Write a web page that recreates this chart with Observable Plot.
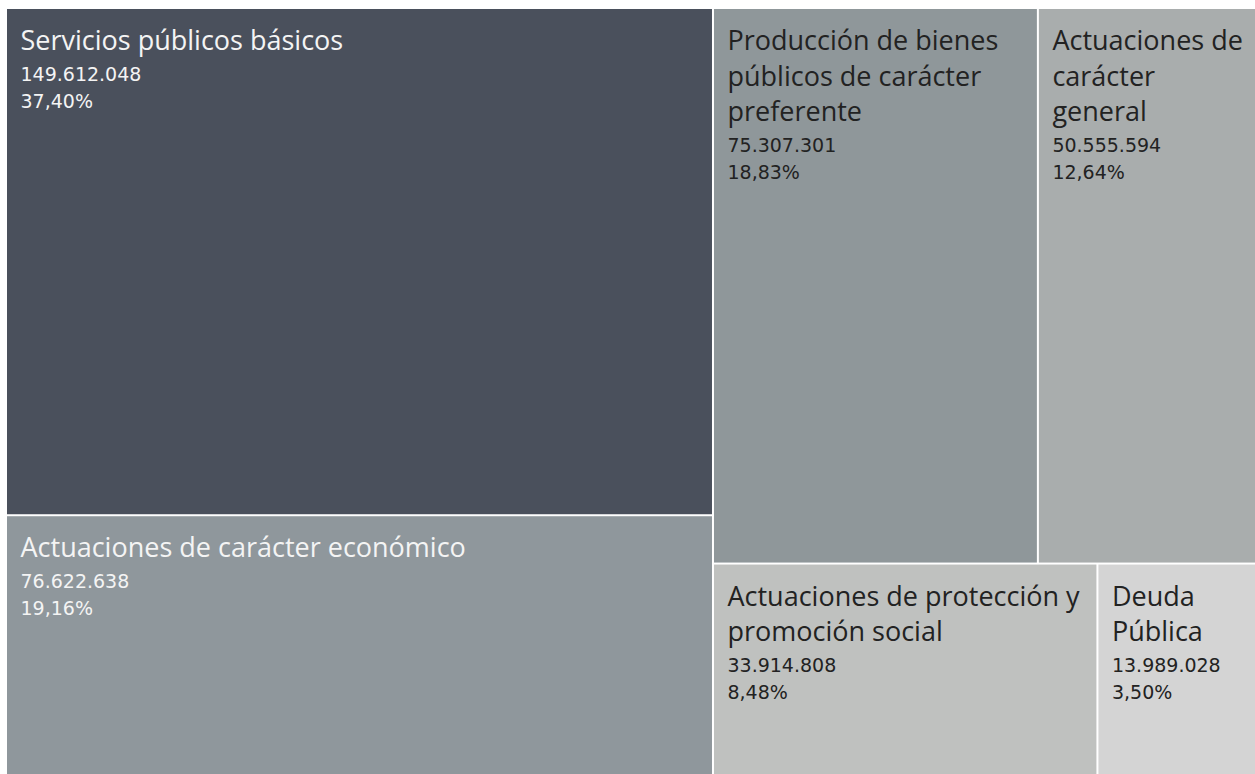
<!DOCTYPE html>
<html><head><meta charset="utf-8">
<script src="https://cdn.jsdelivr.net/npm/d3@7"></script>
<script src="https://cdn.jsdelivr.net/npm/@observablehq/plot@0.6"></script>
<style>body{margin:0;background:#fff;font-family:"Open Sans",sans-serif}</style>
</head><body><div id="chart"></div>
<script>
const categories = ["Servicios públicos básicos", "Actuaciones de carácter económico", "Producción de bienes públicos de carácter preferente", "Actuaciones de carácter general", "Actuaciones de protección y promoción social", "Deuda Pública"];
const labelLines = [["Servicios públicos básicos"], ["Actuaciones de carácter económico"], ["Producción de bienes", "públicos de carácter", "preferente"], ["Actuaciones de", "carácter", "general"], ["Actuaciones de protección y", "promoción social"], ["Deuda", "Pública"]];
const values = [149612048, 76622638, 75307301, 50555594, 33914808, 13989028];
const layoutGroups = [["left"], ["left"], ["right", "top"], ["right", "top"], ["right", "bottom"], ["right", "bottom"]];
const fills = ["#4a505c", "#8f979c", "#8f979a", "#a9adad", "#bfc1bf", "#d4d4d4"];
const textColors = ["#f4f4f4", "#f4f4f4", "#222222", "#222222", "#222222", "#222222"];

const W = 1255, H = 774;
const xRange = [6, 1256], yRange = [8, 775];
const pxX = xRange[1] - xRange[0], pxY = yRange[1] - yRange[0];

// build nested hierarchy
const root = {name: "root", children: []};
categories.forEach((c, i) => {
  let node = root;
  for (const g of layoutGroups[i]) {
    let child = node.children.find(d => d.name === g);
    if (!child) { child = {name: g, children: []}; node.children.push(child); }
    node = child;
  }
  node.children.push({name: c, value: values[i], idx: i});
});
const h = d3.hierarchy(root).sum(d => d.value || 0);
d3.treemap().tile(d3.treemapSliceDice).size([1, 1]).round(false)(h);
const total = d3.sum(values);
const loc = d3.formatLocale({decimal: ",", thousands: ".", grouping: [3], currency: ["", "€"]});
const fmtInt = loc.format(",d");
const fmtPct = loc.format(".2%");

const rects = h.leaves().map(l => ({
  x1: l.x0, x2: l.x1, y1: l.y0, y2: l.y1,
  fill: fills[l.data.idx], idx: l.data.idx
}));

const titleRows = [], valueRows = [];
rects.forEach(r => {
  const i = r.idx;
  const lines = labelLines[i];
  const top = 1 + 32;
  lines.forEach((t, k) => {
    titleRows.push({x: r.x1, y: r.y1 + (top + k * 35.5) / pxY, text: t, color: textColors[i]});
  });
  const vTop = top + (lines.length - 1) * 35.5 + 33;
  valueRows.push({x: r.x1, y: r.y1 + vTop / pxY, text: fmtInt(values[i]), color: textColors[i]});
  valueRows.push({x: r.x1, y: r.y1 + (vTop + 27) / pxY, text: fmtPct(values[i] / total), color: textColors[i]});
});

const chart = Plot.plot({
  width: W, height: H,
  margin: 0,
  x: {domain: [0, 1], range: xRange, axis: null},
  y: {domain: [0, 1], range: yRange, axis: null},
  color: {type: "identity"},
  style: {fontFamily: "'Open Sans', sans-serif", background: "#fff"},
  marks: [
    Plot.rect(rects, {x1: "x1", x2: "x2", y1: "y1", y2: "y2", fill: "fill", inset: 1}),
    Plot.text(titleRows, {x: "x", y: "y", text: "text", fill: "color", textAnchor: "start", lineAnchor: "middle", dx: 14, fontSize: 27, fontFamily: "'Open Sans', sans-serif"}),
    Plot.text(valueRows, {x: "x", y: "y", text: "text", fill: "color", textAnchor: "start", lineAnchor: "middle", dx: 14, fontSize: 19, fontFamily: "'DejaVu Sans', sans-serif"})
  ]
});
document.getElementById("chart").appendChild(chart);
</script>
</body></html>
